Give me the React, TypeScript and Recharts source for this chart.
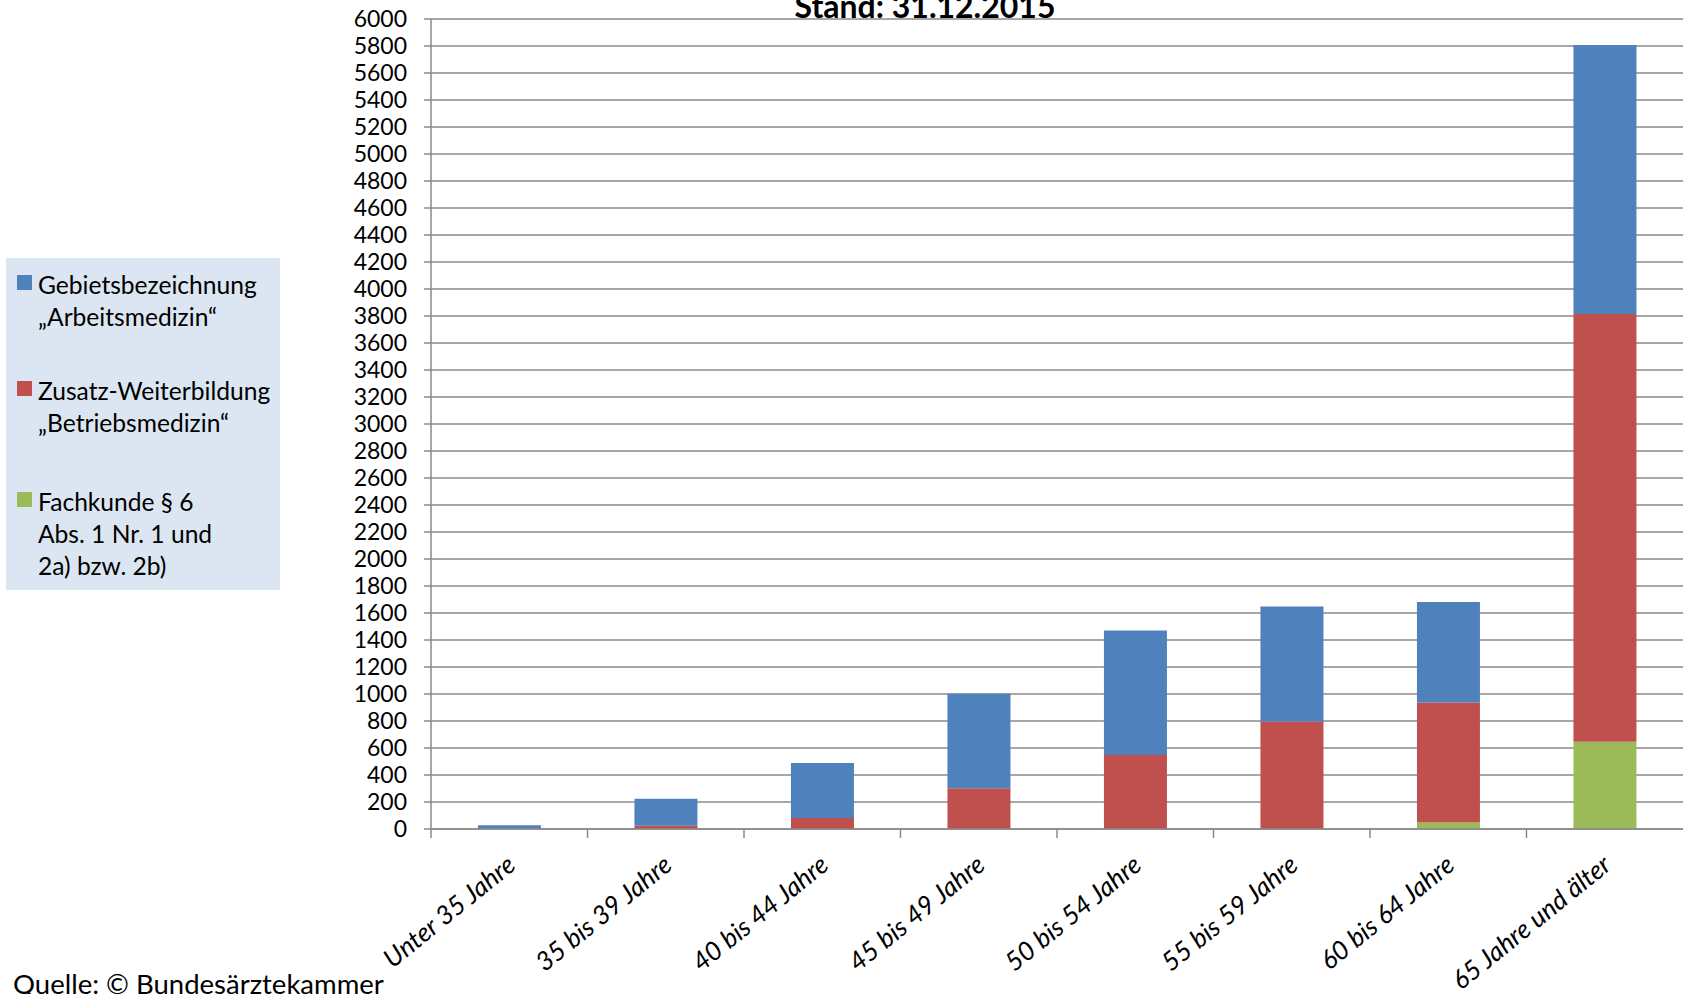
import React from 'react';
import { BarChart, Bar, XAxis, YAxis, CartesianGrid } from 'recharts';

const ageGroups = [
  'Unter 35 Jahre',
  '35 bis 39 Jahre',
  '40 bis 44 Jahre',
  '45 bis 49 Jahre',
  '50 bis 54 Jahre',
  '55 bis 59 Jahre',
  '60 bis 64 Jahre',
  '65 Jahre und älter',
];

// Fachkunde § 6 Abs. 1 Nr. 1 und 2a) bzw. 2b)
const fachkunde = [0, 0, 0, 0, 0, 0, 49, 647];
// Zusatz-Weiterbildung "Betriebsmedizin"
const betriebsmedizin = [2, 25, 82, 301, 549, 796, 888, 3168];
// Gebietsbezeichnung "Arbeitsmedizin"
const arbeitsmedizin = [25, 200, 406, 701, 922, 853, 744, 1992];

const yTicks = [
  0, 200, 400, 600, 800, 1000, 1200, 1400, 1600, 1800, 2000, 2200, 2400, 2600, 2800, 3000,
  3200, 3400, 3600, 3800, 4000, 4200, 4400, 4600, 4800, 5000, 5200, 5400, 5600, 5800, 6000,
];

const FONT = 'Lato, "Open Sans", sans-serif';
const GRID = '#8a8a8a';
const WIDTH = 1683;
const HEIGHT = 994;
const Y_AXIS_W = 431;

const chartData = ageGroups.map((name, i) => ({
  name,
  fachkunde: fachkunde[i],
  betriebsmedizin: betriebsmedizin[i],
  arbeitsmedizin: arbeitsmedizin[i],
}));

const XTick = (props: any) => {
  const { x, y, payload } = props;
  const half = payload?.offset || (WIDTH - Y_AXIS_W) / ageGroups.length / 2;
  const tx = x + 8;
  const ty = y + 39;
  return (
    <g>
      <line x1={x - half} y1={y} x2={x - half} y2={y + 9} stroke={GRID} strokeWidth={1.5} />
      <text
        x={tx}
        y={ty}
        textAnchor="end"
        transform={`rotate(-39, ${tx}, ${ty})`}
        fontFamily={FONT}
        fontStyle="italic"
        fontSize={26}
        fill="#000"
      >
        {payload.value}
      </text>
    </g>
  );
};

const legendItems = [
  { color: '#4F81BD', lines: ['Gebietsbezeichnung', '„Arbeitsmedizin“'], top: 269 },
  { color: '#C0504D', lines: ['Zusatz-Weiterbildung', '„Betriebsmedizin“'], top: 375 },
  { color: '#9BBB59', lines: ['Fachkunde § 6', 'Abs. 1 Nr. 1 und', '2a) bzw. 2b)'], top: 486 },
];

export default function App() {
  return (
    <div
      style={{
        position: 'absolute',
        left: 0,
        top: 0,
        width: WIDTH,
        height: HEIGHT,
        overflow: 'hidden',
        background: '#fff',
        fontFamily: FONT,
      }}
    >
      <div
        style={{
          position: 'absolute',
          left: 0,
          width: 1850,
          top: -10,
          textAlign: 'center',
          fontSize: 32,
          lineHeight: '32px',
          fontWeight: 700,
          color: '#000',
        }}
      >
        Stand: 31.12.2015
      </div>

      <BarChart
        width={WIDTH}
        height={HEIGHT}
        data={chartData}
        margin={{ top: 19, right: 0, bottom: 0, left: 0 }}
        barCategoryGap="30%"
      >
        <CartesianGrid vertical={false} stroke={GRID} strokeWidth={1.5} />
        <XAxis
          dataKey="name"
          height={165}
          interval={0}
          tickSize={0}
          tickMargin={0}
          tickLine={false}
          axisLine={{ stroke: GRID, strokeWidth: 1.5 }}
          tick={<XTick />}
        />
        <YAxis
          width={Y_AXIS_W}
          domain={[0, 6000]}
          ticks={yTicks}
          interval={0}
          tickSize={7}
          tickMargin={17}
          axisLine={{ stroke: GRID, strokeWidth: 1.5 }}
          tickLine={{ stroke: GRID, strokeWidth: 1.5 }}
          tick={{ fill: '#000', fontSize: 23, fontFamily: FONT }}
        />
        <Bar dataKey="fachkunde" stackId="a" fill="#9BBB59" isAnimationActive={false} />
        <Bar dataKey="betriebsmedizin" stackId="a" fill="#C0504D" isAnimationActive={false} />
        <Bar dataKey="arbeitsmedizin" stackId="a" fill="#4F81BD" isAnimationActive={false} />
      </BarChart>

      <div
        style={{
          position: 'absolute',
          left: 6,
          top: 258,
          width: 274,
          height: 332,
          background: '#DCE6F2',
        }}
      />
      {legendItems.map((item) => (
        <div key={item.color} style={{ position: 'absolute', left: 17, top: item.top }}>
          <div
            style={{
              position: 'absolute',
              left: 0,
              top: 6,
              width: 15,
              height: 15,
              background: item.color,
            }}
          />
          {item.lines.map((line, i) => (
            <div
              key={i}
              style={{
                position: 'absolute',
                left: 21,
                top: i * 32,
                whiteSpace: 'nowrap',
                fontSize: 24.6,
                lineHeight: '32px',
                color: '#000',
              }}
            >
              {line}
            </div>
          ))}
        </div>
      ))}

      <div
        style={{
          position: 'absolute',
          left: 13,
          top: 968,
          fontSize: 27.5,
          lineHeight: '32px',
          whiteSpace: 'nowrap',
          color: '#000',
        }}
      >
        Quelle: © Bundesärztekammer
      </div>
    </div>
  );
}
